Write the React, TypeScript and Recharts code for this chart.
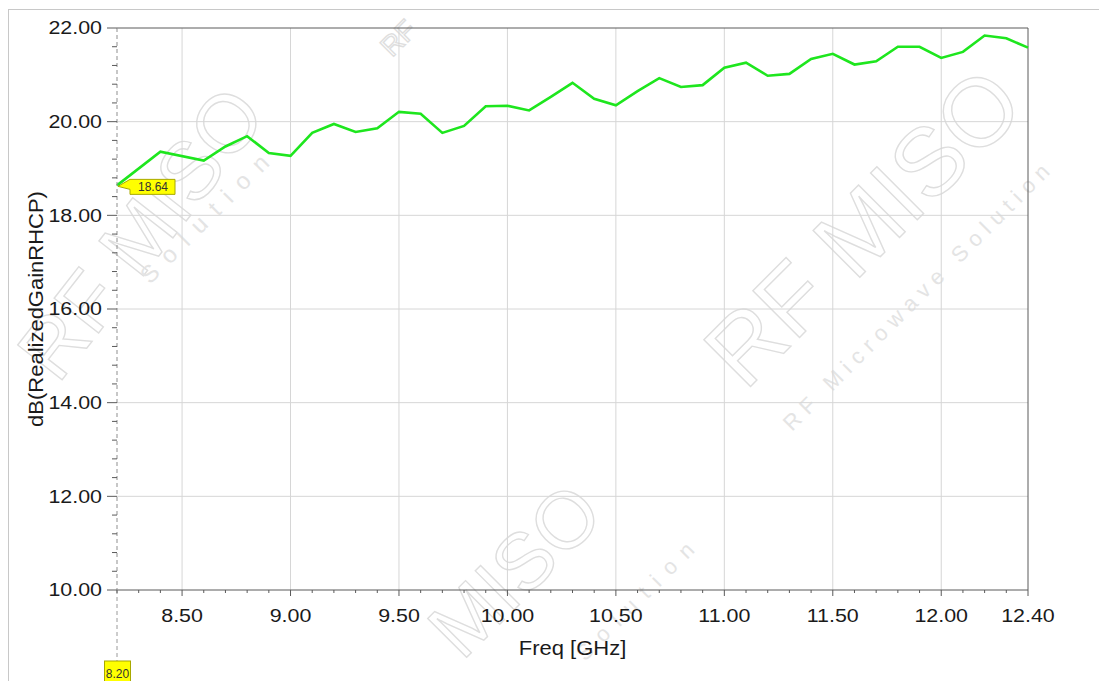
import React from "react";
import {
  LineChart,
  Line,
  XAxis,
  YAxis,
  CartesianGrid,
  ReferenceLine,
  ReferenceDot,
} from "recharts";

// -------------------------------
// Data
// -------------------------------
const freqGHz = [
  8.2, 8.4, 8.6, 8.7, 8.8, 8.9, 9.0, 9.1, 9.2, 9.3, 9.4, 9.5, 9.6, 9.7, 9.8,
  9.9, 10.0, 10.1, 10.2, 10.3, 10.4, 10.5, 10.6, 10.7, 10.8, 10.9, 11.0, 11.1,
  11.2, 11.3, 11.4, 11.5, 11.6, 11.7, 11.8, 11.9, 12.0, 12.1, 12.2, 12.3, 12.4,
];
const gainRhcp = [
  18.64, 19.36, 19.17, 19.47, 19.69, 19.33, 19.27, 19.76, 19.95, 19.78, 19.86,
  20.21, 20.17, 19.76, 19.91, 20.33, 20.34, 20.24, 20.53, 20.83, 20.49, 20.35,
  20.65, 20.93, 20.74, 20.78, 21.15, 21.26, 20.98, 21.02, 21.34, 21.45, 21.22,
  21.29, 21.6, 21.6, 21.36, 21.49, 21.84, 21.78, 21.58,
];
const xMajorTicks = [8.5, 9.0, 9.5, 10.0, 10.5, 11.0, 11.5, 12.0, 12.4];
const yMajorTicks = [10, 12, 14, 16, 18, 20, 22];
// minor tick marks: 0.1 GHz on x, 0.4 dB on y
const xMinorTicks = Array.from({ length: 43 }, (_, i) => Math.round(82 + i) / 10);
const yMinorTicks = Array.from({ length: 31 }, (_, i) => Math.round(100 + i * 4) / 10);
const markerFreq = 8.2;
const markerGain = 18.64;

const data = freqGHz.map((f, i) => ({ freq: f, gain: gainRhcp[i] }));

// -------------------------------
// Layout / style
// -------------------------------
const W = 1099;
const H = 681;
const LEFT = 117;
const TOP = 28;
const RIGHT = 71;
const BOTTOM = 91;
const FONT = "'Liberation Sans', Arial, sans-serif";
const TEXT = "#1a1a1a";
const FRAME = "#5a5a5a";
const TICK_FS = 18;
const TICK_SX = 1.19;

const isIn = (list: number[], v: number) => list.some((t) => Math.abs(t - v) < 1e-6);

const XTick = (props: any) => {
  const { x, y, payload } = props;
  const major = isIn(xMajorTicks, payload.value);
  return (
    <g>
      <line x1={x} y1={y} x2={x} y2={y + (major ? 6 : 3)} stroke={FRAME} />
      {major && (
        <text
          transform={`translate(${x},${y + 19}) scale(${TICK_SX},1)`}
          textAnchor="middle"
          dy="0.71em"
          fontSize={TICK_FS}
          fontFamily={FONT}
          fill={TEXT}
        >
          {payload.value.toFixed(2)}
        </text>
      )}
    </g>
  );
};

const YTick = (props: any) => {
  const { x, y, payload } = props;
  const major = isIn(yMajorTicks, payload.value);
  return (
    <g>
      <line x1={x - (major ? 10 : 5)} y1={y} x2={x} y2={y} stroke={FRAME} />
      {major && (
        <text
          transform={`translate(${x - 15},${y}) scale(${TICK_SX},1)`}
          textAnchor="end"
          dy="0.36em"
          fontSize={TICK_FS}
          fontFamily={FONT}
          fill={TEXT}
        >
          {payload.value.toFixed(2)}
        </text>
      )}
    </g>
  );
};

// yellow call-out of the marker on the trace
const MarkerCallout = (props: any) => {
  const { cx, cy } = props;
  return (
    <g>
      <polygon
        points={`${cx + 1},${cy + 1} ${cx + 13},${cy - 6} ${cx + 58},${cy - 6} ${cx + 58},${cy + 9} ${cx + 13},${cy + 9} ${cx + 13},${cy + 4}`}
        fill="#ffff00"
        stroke="#a8a800"
        strokeWidth={1}
      />
      <text
        x={cx + 36}
        y={cy + 1.5}
        dy="0.36em"
        textAnchor="middle"
        fontSize={12}
        fontFamily={FONT}
        fill="#333"
      >
        {markerGain.toFixed(2)}
      </text>
    </g>
  );
};

// dashed drop line of the marker with its frequency tag below the axis
const MarkerFreqTag = (props: any) => {
  const { cx, cy } = props;
  return (
    <g>
      <line x1={cx} y1={cy} x2={cx} y2={cy + 71} stroke="#9a9a9a" strokeDasharray="4 3" />
      <rect x={cx - 12.5} y={cy + 71} width={26} height={24} fill="#ffff00" stroke="#a8a800" />
      <text
        x={cx + 0.5}
        y={cy + 84}
        dy="0.36em"
        textAnchor="middle"
        fontSize={12}
        fontFamily={FONT}
        fill="#333"
      >
        {markerFreq.toFixed(2)}
      </text>
    </g>
  );
};

// faint "RF MISO" watermark of the screenshot (kept behind the chart)
const Watermark = () => {
  const wm = { fill: "none", stroke: "#dedede", strokeWidth: 1.4, fontFamily: FONT };
  const sub = { fill: "#e4e4e4", fontFamily: FONT };
  return (
    <svg
      width={W}
      height={H}
      style={{ position: "absolute", left: 0, top: 0, pointerEvents: "none" }}
    >
      <text transform="translate(58,385) rotate(-52)" fontSize={82} {...wm}>
        RF MISO
      </text>
      <text transform="translate(150,285) rotate(-45)" fontSize={24} letterSpacing={12} {...sub}>
        Solution
      </text>
      <text transform="translate(462,662) rotate(-45)" fontSize={80} {...wm}>
        MISO
      </text>
      <text transform="translate(585,662) rotate(-45)" fontSize={22} letterSpacing={11} {...sub}>
        Solution
      </text>
      <text transform="translate(745,392) rotate(-45)" fontSize={96} {...wm}>
        RF MISO
      </text>
      <text transform="translate(792,432) rotate(-45)" fontSize={22} letterSpacing={7} {...sub}>
        RF Microwave Solution
      </text>
      <text transform="translate(392,58) rotate(-45)" fontSize={28} {...wm}>
        RF
      </text>
    </svg>
  );
};

const plotW = W - LEFT - RIGHT;
const plotH = H - TOP - BOTTOM;

export default function App() {
  return (
    <div style={{ position: "absolute", left: 0, top: 0, width: W, height: H, background: "#fff" }}>
      <div
        style={{
          position: "absolute",
          left: 8,
          top: 9,
          width: W - 8,
          height: H - 9,
          borderTop: "1px solid #c8c8c8",
          borderLeft: "1px solid #c8c8c8",
        }}
      />
      <Watermark />
      <LineChart
        width={W}
        height={H}
        data={data}
        margin={{ top: TOP, right: RIGHT, left: 0, bottom: BOTTOM - 40 }}
        style={{ position: "absolute", left: 0, top: 0 }}
      >
        <CartesianGrid
          stroke="#d6d6d6"
          verticalValues={[8.5, 9.0, 9.5, 10.0, 10.5, 11.0, 11.5, 12.0]}
          horizontalValues={[12, 14, 16, 18, 20]}
        />
        <XAxis
          dataKey="freq"
          type="number"
          domain={[8.2, 12.4]}
          ticks={xMinorTicks}
          interval={0}
          tickSize={0}
          tickMargin={0}
          tickLine={false}
          tick={<XTick />}
          height={40}
          axisLine={{ stroke: FRAME }}
          label={{
            content: () => (
              <text
                transform={`translate(${LEFT + plotW / 2},${TOP + plotH + 65}) scale(1.1,1)`}
                textAnchor="middle"
                fontSize={20}
                fontFamily={FONT}
                fill={TEXT}
              >
                Freq [GHz]
              </text>
            ),
          }}
        />
        <YAxis
          type="number"
          domain={[10, 22]}
          ticks={yMinorTicks}
          interval={0}
          tickSize={0}
          tickMargin={0}
          tickLine={false}
          tick={<YTick />}
          width={LEFT}
          axisLine={{ stroke: "#8f8f8f", strokeDasharray: "4 3" }}
          label={{
            content: () => (
              <text
                transform={`translate(36,${TOP + plotH / 2}) rotate(-90) scale(1.1,1)`}
                textAnchor="middle"
                dy="0.35em"
                fontSize={20}
                fontFamily={FONT}
                fill={TEXT}
              >
                dB(RealizedGainRHCP)
              </text>
            ),
          }}
        />
        <ReferenceLine y={22} stroke={FRAME} />
        <ReferenceLine x={12.4} stroke={FRAME} />
        <Line
          type="linear"
          dataKey="gain"
          stroke="#1ee61e"
          strokeWidth={2.6}
          dot={false}
          isAnimationActive={false}
        />
        <ReferenceDot x={markerFreq} y={10} ifOverflow="visible" shape={<MarkerFreqTag />} />
        <ReferenceDot x={markerFreq} y={markerGain} ifOverflow="visible" shape={<MarkerCallout />} />
      </LineChart>
    </div>
  );
}
